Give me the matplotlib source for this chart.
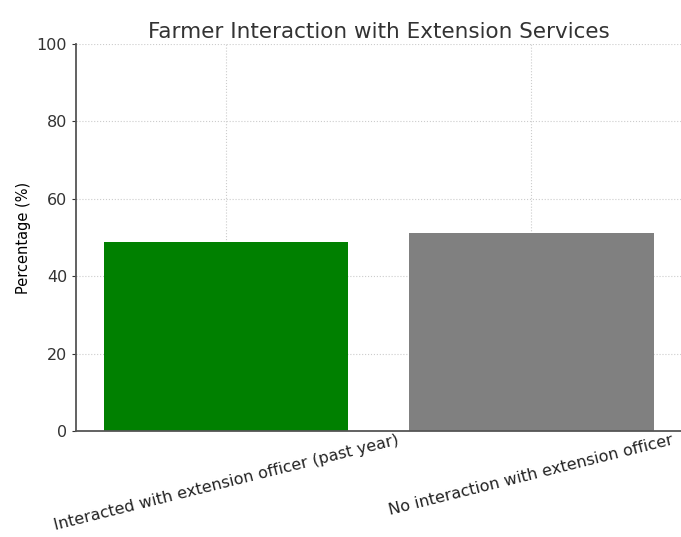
import matplotlib
matplotlib.use("Agg")
import matplotlib.pyplot as plt

categories = [
    "Interacted with extension officer (past year)",
    "No interaction with extension officer",
]
percentages = [48.8, 51.2]
bar_colors = ["green", "gray"]

fig = plt.figure(figsize=(6.81, 5.37), dpi=100)
ax = fig.add_axes([0.112, 0.197, 0.888, 0.721])

ax.bar(categories, percentages, color=bar_colors, width=0.8, zorder=2)

ax.set_ylim(0, 100)
ax.set_title("Farmer Interaction with Extension Services", fontsize=15.5,
             color="#333333", pad=4)
ax.set_ylabel("Percentage (%)", fontsize=10.5, labelpad=4)

ax.grid(True, linestyle=":", color="#cccccc", linewidth=0.8, zorder=0)
ax.spines["top"].set_visible(False)
ax.spines["right"].set_visible(False)
ax.spines["left"].set_color("#555555")
ax.spines["bottom"].set_color("#555555")
ax.spines["left"].set_linewidth(1.3)
ax.spines["bottom"].set_linewidth(1.3)

ax.tick_params(axis="y", labelsize=11.5, length=3, colors="#333333")
ax.tick_params(axis="x", labelsize=11.5, length=0, colors="#222222", pad=1)
plt.setp(ax.get_xticklabels(), rotation=14, ha="center")

fig.savefig("out.png", dpi=100)
